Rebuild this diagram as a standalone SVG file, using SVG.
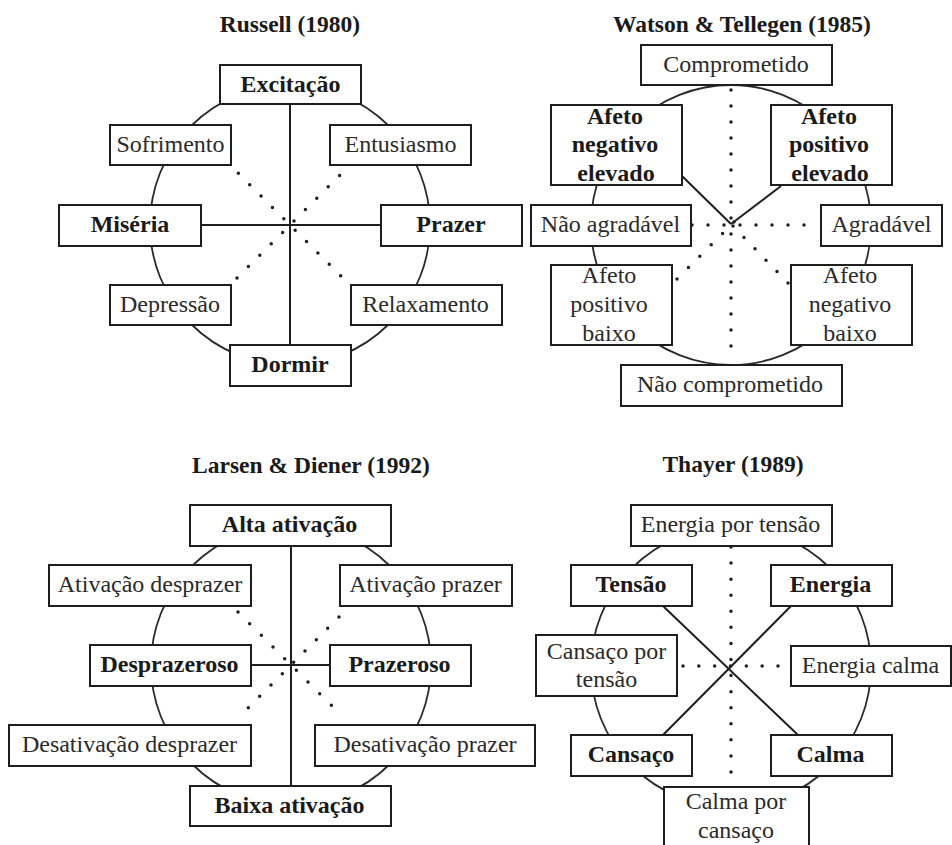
<svg xmlns="http://www.w3.org/2000/svg" width="952" height="845" viewBox="0 0 952 845">
<style>
text{font-family:"Liberation Serif","Times New Roman",serif;font-size:24px;text-anchor:middle;fill:#2a2a2a}
.b{font-weight:bold;fill:#1a1a1a}
.t{font-weight:bold;font-size:23.5px;fill:#1a1a1a}
.box{fill:#fff;stroke:#1e1e1e;stroke-width:2}
.ring{fill:none;stroke:#2a2a2a;stroke-width:1.8}
.ln{stroke:#1e1e1e;stroke-width:2;fill:none}
.dot{stroke:#1e1e1e;stroke-width:3.5;stroke-linecap:round;fill:none}
</style>
<rect width="952" height="845" fill="#fff"/>
<g id="titles">
<text class="t" x="290" y="32">Russell (1980)</text>
<text class="t" x="742" y="32">Watson &amp; Tellegen (1985)</text>
<text class="t" x="311" y="473">Larsen &amp; Diener (1992)</text>
<text class="t" x="733" y="472">Thayer (1989)</text>
</g>
<g id="connectors">
<circle class="ring" cx="290" cy="225" r="140"/>
<circle class="ring" cx="731" cy="225" r="140"/>
<circle class="ring" cx="291" cy="665" r="140"/>
<circle class="ring" cx="731" cy="667" r="140"/>
<line class="ln" x1="290" y1="104" x2="290" y2="345"/>
<line class="ln" x1="201" y1="225" x2="381" y2="225"/>
<line class="dot" x1="227" y1="162" x2="352" y2="287" stroke-dasharray="0 16.07"/>
<line class="dot" x1="351" y1="164" x2="237" y2="278" stroke-dasharray="0 16.12"/>
<line class="ln" x1="682" y1="176" x2="731" y2="224"/>
<line class="ln" x1="781" y1="186" x2="731" y2="224"/>
<line class="dot" x1="731" y1="90" x2="731" y2="362" stroke-dasharray="0 16"/>
<line class="dot" x1="692" y1="225" x2="820" y2="225" stroke-dasharray="0 16"/>
<line class="dot" x1="734" y1="222" x2="677" y2="279" stroke-dasharray="0 16.12"/>
<line class="dot" x1="733" y1="226" x2="788" y2="283" stroke-dasharray="0 15.84"/>
<line class="ln" x1="291" y1="546" x2="291" y2="786"/>
<line class="ln" x1="251" y1="665" x2="330" y2="665"/>
<line class="dot" x1="238" y1="612" x2="343" y2="717" stroke-dasharray="0 16.5"/>
<line class="dot" x1="339" y1="617" x2="237" y2="719" stroke-dasharray="0 16.03"/>
<line class="ln" x1="663" y1="606" x2="798" y2="735"/>
<line class="ln" x1="791" y1="606" x2="663" y2="735"/>
<line class="dot" x1="731" y1="547" x2="731" y2="772" stroke-dasharray="0 16.07"/>
<line class="dot" x1="683" y1="666" x2="778" y2="666" stroke-dasharray="0 15.83"/>
</g>
<g id="excitacao"><rect class="box" x="220" y="65" width="141" height="39"/><text class="b" x="290.5" y="92">Excitação</text></g>
<g id="sofrimento"><rect class="box" x="110" y="125" width="121" height="40"/><text x="170.5" y="152">Sofrimento</text></g>
<g id="entusiasmo"><rect class="box" x="330" y="125" width="141" height="40"/><text x="400.5" y="152">Entusiasmo</text></g>
<g id="miseria"><rect class="box" x="59" y="205" width="142" height="41"/><text class="b" x="130" y="232">Miséria</text></g>
<g id="prazer"><rect class="box" x="381" y="205" width="141" height="41"/><text class="b" x="451" y="232">Prazer</text></g>
<g id="depressao"><rect class="box" x="110" y="285" width="121" height="40"/><text x="170" y="312">Depressão</text></g>
<g id="relaxamento"><rect class="box" x="351" y="285" width="151" height="40"/><text x="425.5" y="312">Relaxamento</text></g>
<g id="dormir"><rect class="box" x="230" y="345" width="121" height="41"/><text class="b" x="290" y="372">Dormir</text></g>
<g id="comprometido"><rect class="box" x="641" y="45" width="191" height="40"/><text x="736" y="72">Comprometido</text></g>
<g id="afeto-neg-elevado"><rect class="box" x="551" y="105" width="131" height="80"/><text class="b" x="615" y="124">Afeto</text><text class="b" x="615" y="152">negativo</text><text class="b" x="616" y="181">elevado</text></g>
<g id="afeto-pos-elevado"><rect class="box" x="771" y="105" width="121" height="80"/><text class="b" x="829" y="124">Afeto</text><text class="b" x="829" y="152">positivo</text><text class="b" x="830" y="181">elevado</text></g>
<g id="nao-agradavel"><rect class="box" x="531" y="205" width="160" height="41"/><text x="610.5" y="232">Não agradável</text></g>
<g id="agradavel"><rect class="box" x="821" y="205" width="121" height="41"/><text x="881.5" y="232">Agradável</text></g>
<g id="afeto-pos-baixo"><rect class="box" x="551" y="265" width="121" height="80"/><text x="609" y="283">Afeto</text><text x="609" y="312">positivo</text><text x="609" y="341">baixo</text></g>
<g id="afeto-neg-baixo"><rect class="box" x="791" y="265" width="121" height="80"/><text x="850" y="283">Afeto</text><text x="850" y="312">negativo</text><text x="850" y="341">baixo</text></g>
<g id="nao-comprometido"><rect class="box" x="621" y="365" width="221" height="41"/><text x="730" y="392">Não comprometido</text></g>
<g id="alta-ativacao"><rect class="box" x="190" y="505" width="201" height="41"/><text class="b" x="289.5" y="532">Alta ativação</text></g>
<g id="ativacao-desprazer"><rect class="box" x="49" y="565" width="202" height="41"/><text x="150" y="592">Ativação desprazer</text></g>
<g id="ativacao-prazer"><rect class="box" x="340" y="565" width="172" height="41"/><text x="425.5" y="592">Ativação prazer</text></g>
<g id="desprazeroso"><rect class="box" x="90" y="645" width="161" height="41"/><text class="b" x="169.5" y="672">Desprazeroso</text></g>
<g id="prazeroso"><rect class="box" x="330" y="645" width="141" height="41"/><text class="b" x="399.5" y="672">Prazeroso</text></g>
<g id="desativacao-desprazer"><rect class="box" x="9" y="725" width="242" height="41"/><text x="129.5" y="752">Desativação desprazer</text></g>
<g id="desativacao-prazer"><rect class="box" x="315" y="725" width="220" height="41"/><text x="425" y="752">Desativação prazer</text></g>
<g id="baixa-ativacao"><rect class="box" x="190" y="786" width="201" height="40"/><text class="b" x="289.5" y="813">Baixa ativação</text></g>
<g id="energia-por-tensao"><rect class="box" x="631" y="505" width="201" height="41"/><text x="730.5" y="532">Energia por tensão</text></g>
<g id="tensao"><rect class="box" x="571" y="565" width="121" height="41"/><text class="b" x="631" y="592">Tensão</text></g>
<g id="energia"><rect class="box" x="771" y="565" width="121" height="41"/><text class="b" x="830.5" y="592">Energia</text></g>
<g id="cansaco-por-tensao"><rect class="box" x="536" y="635" width="141" height="61"/><text x="606.5" y="659">Cansaço por</text><text x="606.5" y="687">tensão</text></g>
<g id="energia-calma"><rect class="box" x="791" y="646" width="160" height="40"/><text x="870.5" y="673">Energia calma</text></g>
<g id="cansaco"><rect class="box" x="571" y="735" width="121" height="41"/><text class="b" x="631" y="762">Cansaço</text></g>
<g id="calma"><rect class="box" x="771" y="735" width="121" height="41"/><text class="b" x="830.5" y="762">Calma</text></g>
<g id="calma-por-cansaco"><rect class="box" x="664" y="787" width="145" height="60"/><text x="736" y="809">Calma por</text><text x="736" y="838">cansaço</text></g>
</svg>
